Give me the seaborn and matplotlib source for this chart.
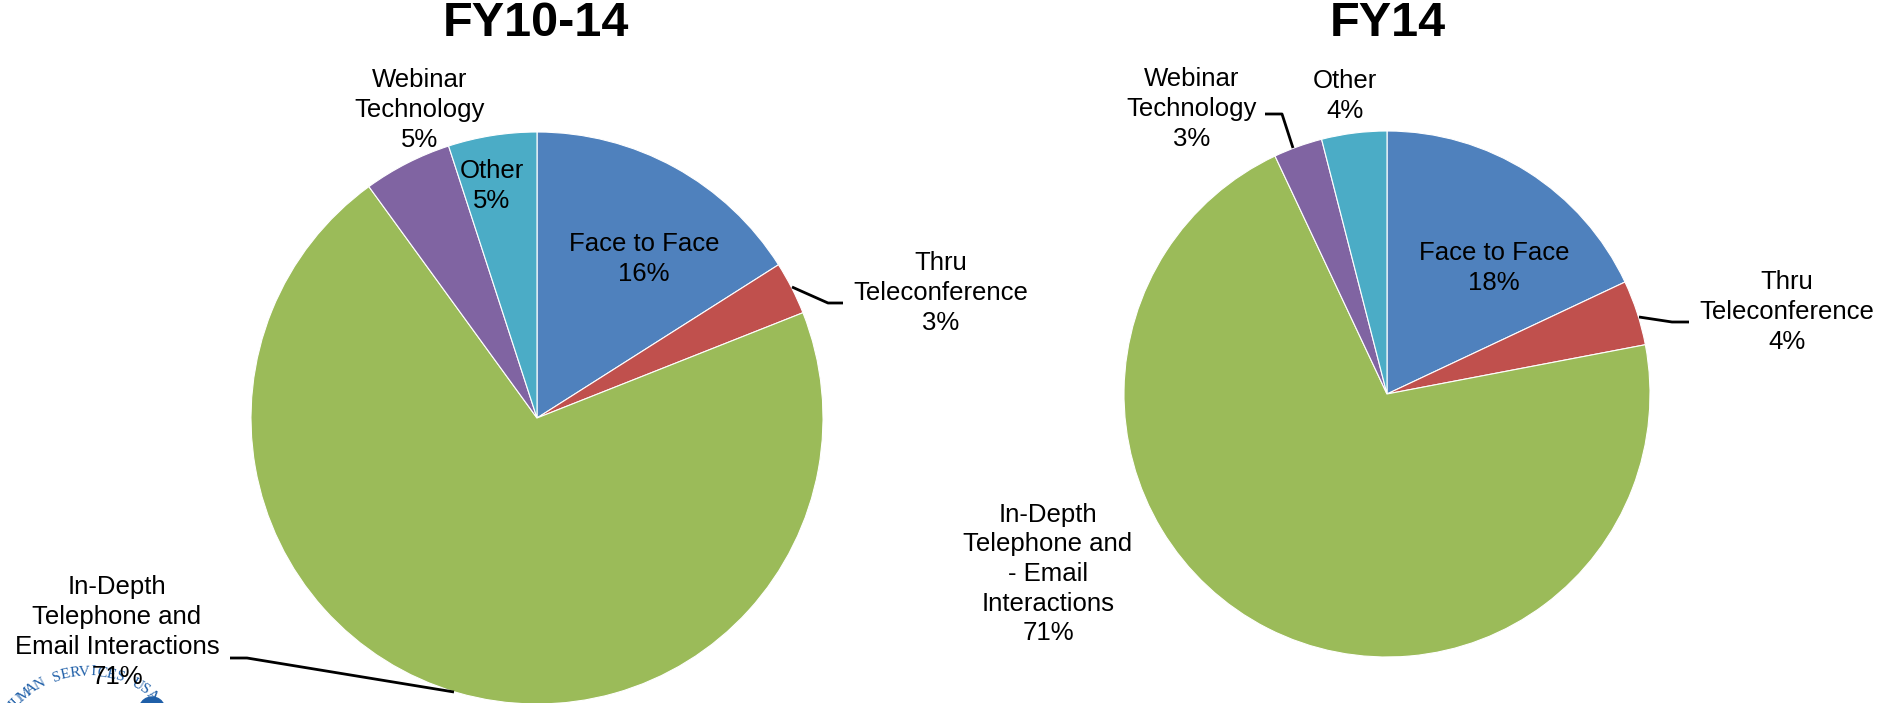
import numpy as np
import matplotlib
matplotlib.use("Agg")
import matplotlib.pyplot as plt
import seaborn as sns

# ---- data ----
categories_left = ["Face to Face", "Thru\nTeleconference", "In-Depth\nTelephone and\nEmail Interactions",
                   "Webinar\nTechnology", "Other"]
values_left = [16, 3, 71, 5, 5]
categories_right = ["Face to Face", "Thru\nTeleconference", "In-Depth\nTelephone and\n- Email\nInteractions",
                    "Webinar\nTechnology", "Other"]
values_right = [18, 4, 71, 3, 4]
titles = ["FY10-14", "FY14"]
slice_colors = ["#4F81BD", "#C0504D", "#9BBB59", "#8064A2", "#4BACC6"]

sns.set_theme(style="white")
plt.rcParams['font.family'] = ['Liberation Sans', 'DejaVu Sans']

W, H = 1883, 703
fig = plt.figure(figsize=(W / 100, H / 100), dpi=100)
ax = fig.add_axes([0, 0, 1, 1])

def Y(y):
    return H - y

pies = [
    dict(vals=values_left, cats=categories_left, center=(537, 418), r=286, title=titles[0], tx=536,
         lab=[(644, 259), (941, 293), (117, 632), (420, 110), (492, 186)]),
    dict(vals=values_right, cats=categories_right, center=(1387, 394), r=263, title=titles[1], tx=1388,
         lab=[(1494, 268), (1787, 312), (1048, 574), (1192, 109), (1345, 96)]),
]

for p in pies:
    cx, cy = p["center"]
    ax.pie(p["vals"], colors=slice_colors, startangle=90, counterclock=False,
           center=(cx, Y(cy)), radius=p["r"], frame=True,
           wedgeprops=dict(edgecolor="white", linewidth=0.8))
    for cat, v, (lx, ly) in zip(p["cats"], p["vals"], p["lab"]):
        ax.text(lx, Y(ly), f"{cat}\n{v}%", ha="center", va="center", fontsize=18.5,
                color="black", linespacing=1.3, zorder=5)
    ax.text(p["tx"], Y(23), p["title"], ha="center", va="center", fontsize=35,
            fontweight="bold", color="black")

# leader lines
leaders = [
    [(792, 287), (828, 303), (843, 303)],
    [(230, 658), (247, 658), (454, 692)],
    [(1265, 114), (1282, 114), (1293, 148)],
    [(1639, 317), (1672, 322), (1689, 322)],
]
for seg in leaders:
    xs = [s[0] for s in seg]
    ys = [Y(s[1]) for s in seg]
    ax.plot(xs, ys, color="black", lw=2, solid_capstyle="butt", zorder=4)

# partial logo text at bottom-left
logo = "HUMAN SERVICES USA"
lcx, lcy, lr = 88, 772, 100
angs = np.linspace(-50, 40, len(logo))
for ch, a in zip(logo, angs):
    t = np.radians(a)
    x = lcx + lr * np.sin(t)
    y = lcy - lr * np.cos(t)
    ax.text(x, Y(y), ch, ha="center", va="center", fontsize=11, rotation=-a,
            family="Liberation Serif", color="#1F5FA8", zorder=3, clip_on=True)
ax.add_patch(matplotlib.patches.Wedge((152, Y(710)), 13, 20, 160, color="#1F5FA8", zorder=3))

ax.set_xlim(0, W)
ax.set_ylim(0, H)
ax.set_aspect("auto")
ax.axis("off")
fig.savefig("out.png", dpi=100, facecolor="white")
